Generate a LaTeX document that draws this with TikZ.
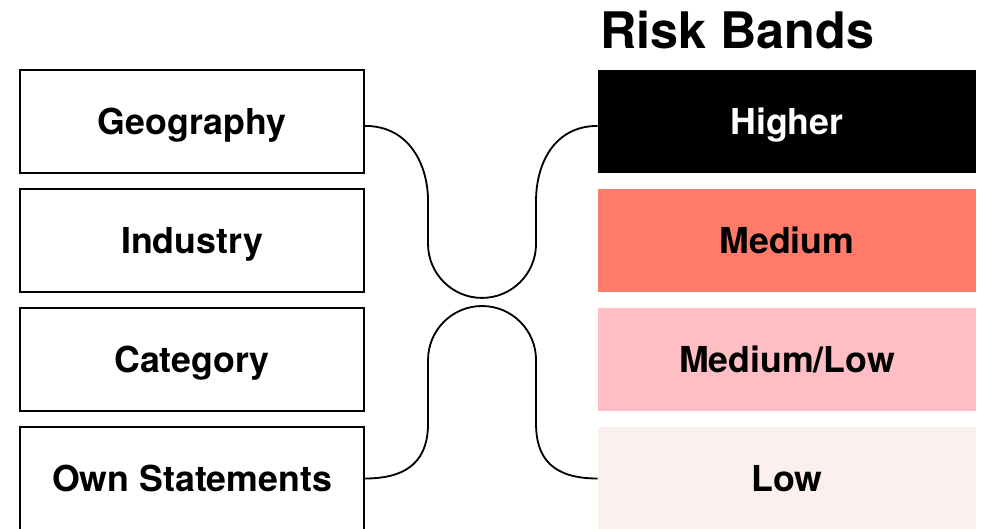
\documentclass[tikz,border=0pt]{standalone}
\usepackage{fontspec}
\setmainfont{TeX Gyre Heros}
\definecolor{band-medium}{HTML}{FF7B69}
\definecolor{band-medlow}{HTML}{FFBEC4}
\definecolor{band-low}{HTML}{FCF0EE}

\begin{document}
\begin{tikzpicture}
        [x=0.025cm, y=0.025cm,
        factor-box/.style={rectangle,draw=black,line width=1.4pt,inner sep=0pt,minimum width=8.6cm,minimum height=2.575cm,text height=19pt,text depth=0pt,font=\fontsize{25.4}{30}\selectfont\bfseries},
        band-box/.style={rectangle,inner sep=0pt,minimum width=9.45cm,minimum height=2.575cm,text height=19pt,text depth=0pt,font=\fontsize{25.4}{30}\selectfont\bfseries},
        title-text/.style={anchor=base west,inner sep=0pt,font=\fontsize{35.8}{42}\selectfont\bfseries},
        link/.style={line width=1.3pt}
        ]
        \useasboundingbox (0, 0) rectangle (986, -528);
        \clip (0, 0) rectangle (986, -528);
        \node[title-text] (title) at (600, -48) {Risk Bands};
        \node[factor-box] (factor-geo) at (192, -121.5) {Geography};
        \node[factor-box] (factor-ind) at (192, -240.5) {Industry};
        \node[factor-box] (factor-cat) at (192, -359.5) {Category};
        \node[factor-box] (factor-own) at (192, -478.5) {Own Statements};
        \node[band-box,fill=black,text=white] (band-high) at (787, -121.5) {Higher};
        \node[band-box,fill=band-medium] (band-med) at (787, -240.5) {Medium};
        \node[band-box,fill=band-medlow] (band-medlow) at (787, -359.5) {Medium/Low};
        \node[band-box,fill=band-low] (band-low) at (787, -478.5) {Low};
        \draw[link] ([yshift=-1.1mm]factor-geo.east) .. controls +(45,0) and +(0,35) .. ++(63,-75) -- ++(0,-43)
            arc[start angle=180, end angle=360, radius=54] -- ++(0,43)
            .. controls +(0,35) and +(-45,0) .. ([yshift=-1.1mm]band-high.west);
        \draw[link] (factor-own.east) .. controls +(45,0) and +(0,-35) .. ++(63,55) -- ++(0,63.5)
            arc[start angle=180, end angle=0, radius=54] -- ++(0,-63.5)
            .. controls +(0,-35) and +(-45,0) .. (band-low.west);
    \end{tikzpicture}
\end{document}
